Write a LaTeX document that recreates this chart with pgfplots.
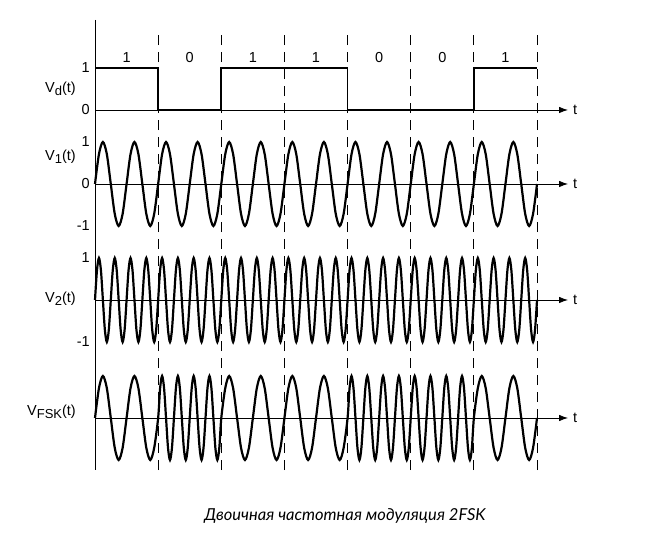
\documentclass[border=0pt]{standalone}
\usepackage{pgfplots}
\pgfplotsset{compat=1.18}
\usetikzlibrary{arrows.meta}
\usepackage{fontspec}
\setmainfont{Liberation Sans}
\newfontfamily\capfont{Lato}

\tikzset{lab/.style={font=\fontsize{14.5}{14.5}\selectfont, inner sep=0pt}}
\newcommand{\sub}[1]{\raisebox{-3pt}{\fontsize{13}{13}\selectfont #1}}

\pgfplotsset{
  sig/.style={
    scale only axis, width=473pt, xmin=0, xmax=239.7, enlargelimits=false,
    axis x line=middle, axis y line=left,
    x axis line style={line width=0.8pt, -{Latex[length=9pt,width=6.5pt]}},
    y axis line style={draw=none},
    xtick=\empty, major tick length=0pt,
    hide obscured x ticks=false, hide obscured y ticks=false,
    yticklabel style={font=\fontsize{14.5}{14.5}\selectfont, inner sep=0pt, anchor=east, xshift=-5pt},
    clip=false, anchor=south west,
  },
  wave/.style={line width=2.2pt, smooth, black},
}

\begin{document}
\begin{tikzpicture}
\useasboundingbox (0,0) rectangle (650pt,543pt);

% ---------- V_d(t) ----------
\begin{axis}[sig, at={(95pt,433pt)}, height=42pt, ymin=0, ymax=1,
  ytick={0,1}, yticklabels={0,1}]
\addplot[line width=1.8pt, sharp plot, black] coordinates {
(0,1)(32,1)(32,0)(64,0)(64,1)(128,1)(128,0)(192,0)(192,1)(224,1)};
\node[lab] at (axis cs:16,1.26) {1};
\node[lab] at (axis cs:48,1.26) {0};
\node[lab] at (axis cs:80,1.26) {1};
\node[lab] at (axis cs:112,1.26) {1};
\node[lab] at (axis cs:144,1.26) {0};
\node[lab] at (axis cs:176,1.26) {0};
\node[lab] at (axis cs:208,1.26) {1};
\node[lab, anchor=west, xshift=5pt] at (axis cs:239.7,0) {t};
\end{axis}

% ---------- V_1(t) ----------
\begin{axis}[sig, at={(95pt,317pt)}, height=84pt, ymin=-1, ymax=1,
  ytick={-1,0,1}, yticklabels={-1,0,1}]
\addplot[wave] coordinates {
(0,0)(2,.71)(4,1)(6,.71)(8,0)(10,-.71)(12,-1)(14,-.71)
(16,0)(18,.71)(20,1)(22,.71)(24,0)(26,-.71)(28,-1)(30,-.71)
(32,0)(34,.71)(36,1)(38,.71)(40,0)(42,-.71)(44,-1)(46,-.71)
(48,0)(50,.71)(52,1)(54,.71)(56,0)(58,-.71)(60,-1)(62,-.71)
(64,0)(66,.71)(68,1)(70,.71)(72,0)(74,-.71)(76,-1)(78,-.71)
(80,0)(82,.71)(84,1)(86,.71)(88,0)(90,-.71)(92,-1)(94,-.71)
(96,0)(98,.71)(100,1)(102,.71)(104,0)(106,-.71)(108,-1)(110,-.71)
(112,0)(114,.71)(116,1)(118,.71)(120,0)(122,-.71)(124,-1)(126,-.71)
(128,0)(130,.71)(132,1)(134,.71)(136,0)(138,-.71)(140,-1)(142,-.71)
(144,0)(146,.71)(148,1)(150,.71)(152,0)(154,-.71)(156,-1)(158,-.71)
(160,0)(162,.71)(164,1)(166,.71)(168,0)(170,-.71)(172,-1)(174,-.71)
(176,0)(178,.71)(180,1)(182,.71)(184,0)(186,-.71)(188,-1)(190,-.71)
(192,0)(194,.71)(196,1)(198,.71)(200,0)(202,-.71)(204,-1)(206,-.71)
(208,0)(210,.71)(212,1)(214,.71)(216,0)(218,-.71)(220,-1)(222,-.71)
(224,0)};
\node[lab, anchor=west, xshift=5pt] at (axis cs:239.7,0) {t};
\end{axis}

% ---------- V_2(t) ----------
\begin{axis}[sig, at={(95pt,201pt)}, height=84pt, ymin=-1, ymax=1,
  ytick={-1,1}, yticklabels={-1,1}]
\addplot[wave] coordinates {
(0,0)(1,.71)(2,1)(3,.71)(4,0)(5,-.71)(6,-1)(7,-.71)
(8,0)(9,.71)(10,1)(11,.71)(12,0)(13,-.71)(14,-1)(15,-.71)
(16,0)(17,.71)(18,1)(19,.71)(20,0)(21,-.71)(22,-1)(23,-.71)
(24,0)(25,.71)(26,1)(27,.71)(28,0)(29,-.71)(30,-1)(31,-.71)
(32,0)(33,.71)(34,1)(35,.71)(36,0)(37,-.71)(38,-1)(39,-.71)
(40,0)(41,.71)(42,1)(43,.71)(44,0)(45,-.71)(46,-1)(47,-.71)
(48,0)(49,.71)(50,1)(51,.71)(52,0)(53,-.71)(54,-1)(55,-.71)
(56,0)(57,.71)(58,1)(59,.71)(60,0)(61,-.71)(62,-1)(63,-.71)
(64,0)(65,.71)(66,1)(67,.71)(68,0)(69,-.71)(70,-1)(71,-.71)
(72,0)(73,.71)(74,1)(75,.71)(76,0)(77,-.71)(78,-1)(79,-.71)
(80,0)(81,.71)(82,1)(83,.71)(84,0)(85,-.71)(86,-1)(87,-.71)
(88,0)(89,.71)(90,1)(91,.71)(92,0)(93,-.71)(94,-1)(95,-.71)
(96,0)(97,.71)(98,1)(99,.71)(100,0)(101,-.71)(102,-1)(103,-.71)
(104,0)(105,.71)(106,1)(107,.71)(108,0)(109,-.71)(110,-1)(111,-.71)
(112,0)(113,.71)(114,1)(115,.71)(116,0)(117,-.71)(118,-1)(119,-.71)
(120,0)(121,.71)(122,1)(123,.71)(124,0)(125,-.71)(126,-1)(127,-.71)
(128,0)(129,.71)(130,1)(131,.71)(132,0)(133,-.71)(134,-1)(135,-.71)
(136,0)(137,.71)(138,1)(139,.71)(140,0)(141,-.71)(142,-1)(143,-.71)
(144,0)(145,.71)(146,1)(147,.71)(148,0)(149,-.71)(150,-1)(151,-.71)
(152,0)(153,.71)(154,1)(155,.71)(156,0)(157,-.71)(158,-1)(159,-.71)
(160,0)(161,.71)(162,1)(163,.71)(164,0)(165,-.71)(166,-1)(167,-.71)
(168,0)(169,.71)(170,1)(171,.71)(172,0)(173,-.71)(174,-1)(175,-.71)
(176,0)(177,.71)(178,1)(179,.71)(180,0)(181,-.71)(182,-1)(183,-.71)
(184,0)(185,.71)(186,1)(187,.71)(188,0)(189,-.71)(190,-1)(191,-.71)
(192,0)(193,.71)(194,1)(195,.71)(196,0)(197,-.71)(198,-1)(199,-.71)
(200,0)(201,.71)(202,1)(203,.71)(204,0)(205,-.71)(206,-1)(207,-.71)
(208,0)(209,.71)(210,1)(211,.71)(212,0)(213,-.71)(214,-1)(215,-.71)
(216,0)(217,.71)(218,1)(219,.71)(220,0)(221,-.71)(222,-1)(223,-.71)
(224,0)};
\node[lab, anchor=west, xshift=5pt] at (axis cs:239.7,0) {t};
\end{axis}

% ---------- V_FSK(t) ----------
\begin{axis}[sig, at={(95pt,83pt)}, height=84pt, ymin=-1, ymax=1, ytick=\empty]
\foreach \k in {32,64,96,128,160,192,224}{
  \edef\temp{\noexpand\draw[line width=0.8pt, dash pattern=on 10pt off 7pt]
    (axis cs:\k,-1.24) -- (axis cs:\k,9.12);}
  \temp
}
\addplot[wave] coordinates {
(0,0)(2,.71)(4,1)(6,.71)(8,0)(10,-.71)(12,-1)(14,-.71)
(16,0)(18,.71)(20,1)(22,.71)(24,0)(26,-.71)(28,-1)(30,-.71)
(32,0)(33,.71)(34,1)(35,.71)(36,0)(37,-.71)(38,-1)(39,-.71)
(40,0)(41,.71)(42,1)(43,.71)(44,0)(45,-.71)(46,-1)(47,-.71)
(48,0)(49,.71)(50,1)(51,.71)(52,0)(53,-.71)(54,-1)(55,-.71)
(56,0)(57,.71)(58,1)(59,.71)(60,0)(61,-.71)(62,-1)(63,-.71)
(64,0)(66,.71)(68,1)(70,.71)(72,0)(74,-.71)(76,-1)(78,-.71)
(80,0)(82,.71)(84,1)(86,.71)(88,0)(90,-.71)(92,-1)(94,-.71)
(96,0)(98,.71)(100,1)(102,.71)(104,0)(106,-.71)(108,-1)(110,-.71)
(112,0)(114,.71)(116,1)(118,.71)(120,0)(122,-.71)(124,-1)(126,-.71)
(128,0)(129,.71)(130,1)(131,.71)(132,0)(133,-.71)(134,-1)(135,-.71)
(136,0)(137,.71)(138,1)(139,.71)(140,0)(141,-.71)(142,-1)(143,-.71)
(144,0)(145,.71)(146,1)(147,.71)(148,0)(149,-.71)(150,-1)(151,-.71)
(152,0)(153,.71)(154,1)(155,.71)(156,0)(157,-.71)(158,-1)(159,-.71)
(160,0)(161,.71)(162,1)(163,.71)(164,0)(165,-.71)(166,-1)(167,-.71)
(168,0)(169,.71)(170,1)(171,.71)(172,0)(173,-.71)(174,-1)(175,-.71)
(176,0)(177,.71)(178,1)(179,.71)(180,0)(181,-.71)(182,-1)(183,-.71)
(184,0)(185,.71)(186,1)(187,.71)(188,0)(189,-.71)(190,-1)(191,-.71)
(192,0)(194,.71)(196,1)(198,.71)(200,0)(202,-.71)(204,-1)(206,-.71)
(208,0)(210,.71)(212,1)(214,.71)(216,0)(218,-.71)(220,-1)(222,-.71)
(224,0)};
\node[lab, anchor=west, xshift=5pt] at (axis cs:239.7,0) {t};
\end{axis}

% left vertical axis line
\draw[line width=0.8pt] (95pt,523pt) -- (95pt,73pt);

% signal names
\node[lab, anchor=east] at (76pt,454pt) {V\sub{d}(t)};
\node[lab, anchor=east] at (76pt,386pt) {V\sub{1}(t)};
\node[lab, anchor=east] at (76pt,244pt) {V\sub{2}(t)};
\node[lab, anchor=east] at (76pt,131pt) {V\sub{FSK}(t)};

% caption
\node[anchor=base, font=\capfont\itshape\fontsize{16.5}{17}\selectfont, inner sep=0pt]
  at (345pt,23pt) {Двоичная частотная модуляция 2FSK};
\end{tikzpicture}
\end{document}
